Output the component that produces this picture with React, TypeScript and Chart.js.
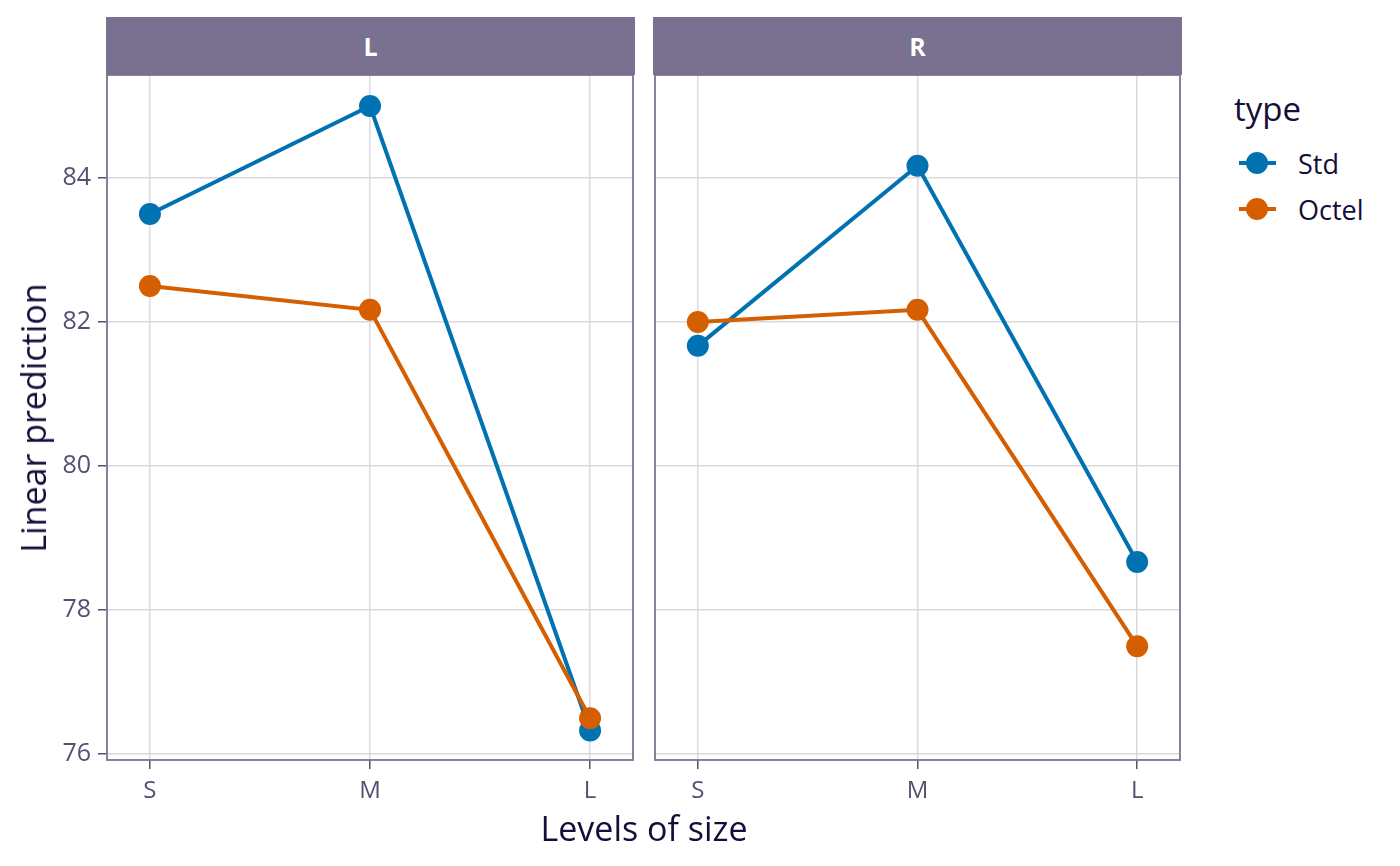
import { Chart, registerables, Plugin } from 'chart.js';
import { useEffect, useRef } from 'react';

Chart.register(...registerables);

const sizes = ['S', 'M', 'L'];
const facets = ['L', 'R'];
const types = ['Std', 'Octel'];
const typeColors = ['#0072B2', '#D55E00'];

// linear prediction per facet, in the order of sizes
const stdL = [83.5, 85.0, 76.33];
const octelL = [82.5, 82.17, 76.5];
const stdR = [81.67, 84.17, 78.67];
const octelR = [82.0, 82.17, 77.5];

const yTicks = [76, 78, 80, 82, 84];
const xTicks = [1, 2, 3];

const FONT = '"Open Sans", "Noto Sans", sans-serif';
const TICK_COLOR = '#574f72';
const TITLE_COLOR = '#150d3a';
const FRAME_COLOR = '#7b7394';
const GRID_COLOR = '#d9d9de';

// frame around the panel
const framePlugin: Plugin = {
  id: 'frame',
  afterDraw(chart) {
    const { ctx, chartArea } = chart;
    ctx.save();
    ctx.strokeStyle = FRAME_COLOR;
    ctx.lineWidth = 1.8;
    ctx.strokeRect(chartArea.left, chartArea.top, chartArea.right - chartArea.left, chartArea.bottom - chartArea.top);
    ctx.restore();
  },
};

type PanelProps = {
  std: number[];
  octel: number[];
  showY: boolean;
};

const Panel = ({ std, octel, showY }: PanelProps) => {
  const chartRef = useRef<HTMLCanvasElement | null>(null);

  useEffect(() => {
    if (!chartRef.current) return;
    const ctx = chartRef.current.getContext('2d');
    if (!ctx) return;

    const series = [std, octel];
    const datasets = types.map((t, i) => ({
      label: t,
      data: series[i].map((v, k) => ({ x: k + 1, y: v })),
      borderColor: typeColors[i],
      backgroundColor: typeColors[i],
      borderWidth: 4,
      pointRadius: 11,
      pointBorderWidth: 0,
      pointHoverRadius: 11,
      order: types.length - 1 - i,
    }));

    const chartInstance = new Chart(ctx, {
      type: 'line',
      data: { datasets },
      options: {
        animation: false,
        responsive: true,
        maintainAspectRatio: false,
        layout: { padding: { top: 75, right: 10, left: 0, bottom: 0 } },
        plugins: {
          legend: { display: false },
          tooltip: { enabled: false },
        },
        scales: {
          x: {
            type: 'linear',
            min: 0.805,
            max: 3.195,
            afterBuildTicks: (scale) => {
              scale.ticks = xTicks.map((v) => ({ value: v }));
            },
            afterFit: (scale) => {
              scale.height = 106;
            },
            border: { display: false },
            grid: {
              color: GRID_COLOR,
              lineWidth: 1.5,
              tickLength: 9,
              tickColor: TICK_COLOR,
            },
            ticks: {
              padding: 8,
              color: TICK_COLOR,
              font: { family: FONT, size: 24 },
              callback: (value) => sizes[Number(value) - 1],
            },
          },
          y: {
            min: 75.92,
            max: 85.43,
            afterBuildTicks: (scale) => {
              scale.ticks = yTicks.map((v) => ({ value: v }));
            },
            afterFit: (scale) => {
              scale.width = showY ? 107 : 10;
            },
            border: { display: false },
            grid: {
              color: GRID_COLOR,
              lineWidth: 1.5,
              drawTicks: showY,
              tickLength: 9,
              tickColor: TICK_COLOR,
            },
            ticks: {
              display: showY,
              padding: 7,
              color: TICK_COLOR,
              font: { family: FONT, size: 25 },
            },
          },
        },
      },
      plugins: [framePlugin],
    });

    return () => {
      chartInstance.destroy();
    };
  }, [std, octel, showY]);

  return <canvas ref={chartRef}></canvas>;
};

const App = () => {
  const abs = (left: number, top: number, width: number, height: number): React.CSSProperties => ({
    position: 'absolute',
    left,
    top,
    width,
    height,
  });

  return (
    <div style={{ ...abs(0, 0, 1400, 866), background: '#fff', fontFamily: FONT, overflow: 'hidden' }}>
      {/* panels */}
      <div style={abs(0, 0, 644, 866)}>
        <Panel std={stdL} octel={octelL} showY={true} />
      </div>
      <div style={abs(644, 0, 547, 866)}>
        <Panel std={stdR} octel={octelR} showY={false} />
      </div>

      {/* strips */}
      {facets.map((f, i) => (
        <div
          key={f}
          style={{
            ...abs(i === 0 ? 106 : 653, 17, 529, 58),
            background: '#7a7190',
            color: '#fff',
            fontWeight: 700,
            fontSize: 25,
            display: 'flex',
            alignItems: 'center',
            justifyContent: 'center',
          }}
        >
          {f}
        </div>
      ))}

      {/* axis titles */}
      <div
        style={{
          position: 'absolute',
          left: 644,
          top: 828,
          transform: 'translate(-50%, -50%)',
          whiteSpace: 'nowrap',
          fontSize: 34,
          color: TITLE_COLOR,
        }}
      >
        Levels of size
      </div>
      <div
        style={{
          position: 'absolute',
          left: 33,
          top: 418,
          transform: 'translate(-50%, -50%) rotate(-90deg)',
          whiteSpace: 'nowrap',
          fontSize: 34,
          color: TITLE_COLOR,
        }}
      >
        Linear prediction
      </div>

      {/* legend */}
      <div
        style={{
          position: 'absolute',
          left: 1234,
          top: 108,
          transform: 'translateY(-50%)',
          fontSize: 33,
          color: TITLE_COLOR,
          whiteSpace: 'nowrap',
        }}
      >
        type
      </div>
      {types.map((t, i) => (
        <div key={t}>
          <div style={{ ...abs(1239, 163 + i * 46 - 2, 37, 4), background: typeColors[i] }} />
          <div
            style={{
              ...abs(1257 - 11, 163 + i * 46 - 11, 22, 22),
              background: typeColors[i],
              borderRadius: '50%',
            }}
          />
          <div
            style={{
              position: 'absolute',
              left: 1298,
              top: 163 + i * 46,
              transform: 'translateY(-50%)',
              fontSize: 27,
              color: TITLE_COLOR,
              whiteSpace: 'nowrap',
            }}
          >
            {t}
          </div>
        </div>
      ))}
    </div>
  );
};

export default App;
